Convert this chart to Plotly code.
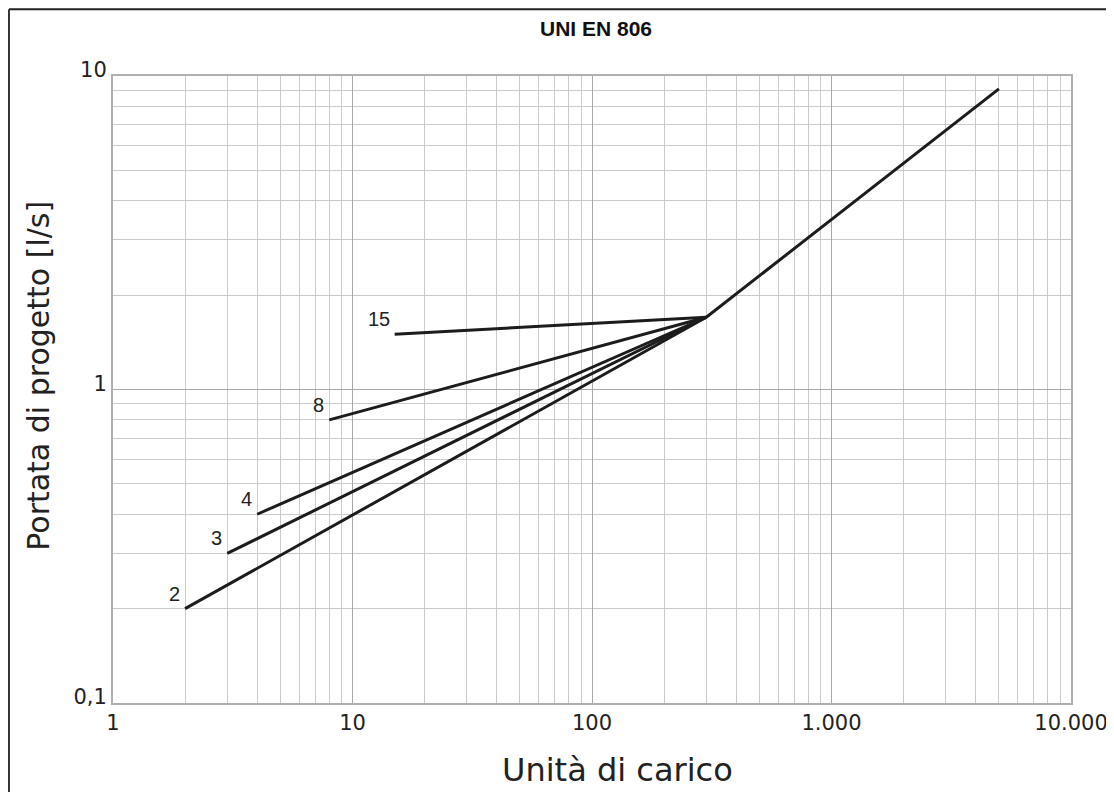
import math
import plotly.graph_objects as go

# Data
curve_labels = ["2", "3", "4", "8", "15"]
start_lu = [2, 3, 4, 8, 15]
start_q = [0.2, 0.3, 0.4, 0.8, 1.5]
knee_lu = 300
knee_q = 1.7
end_lu = 5000
end_q = 9.1

x_tickvals = [1, 10, 100, 1000, 10000]
x_ticktext = ["1", "10", "100", "1.000", "10.000"]
y_tickvals = [0.1, 1, 10]
y_ticktext = ["0,1", "1", "10"]

x_minor = [m * 10 ** d for d in range(0, 4) for m in range(2, 10)]
y_minor = [m * 10 ** d for d in (-1, 0) for m in range(2, 10)]

line_color = "#1c1c1c"
font_main = "'DejaVu Sans', sans-serif"
font_arial = "'Liberation Sans', Arial, sans-serif"

fig = go.Figure()
for lab, x0, y0 in zip(curve_labels, start_lu, start_q):
    fig.add_trace(go.Scatter(x=[x0, knee_lu], y=[y0, knee_q], mode="lines",
                             line=dict(color=line_color, width=3), showlegend=False,
                             hoverinfo="skip"))
    fig.add_annotation(x=math.log10(x0), y=math.log10(y0), xref="x", yref="y", text=lab,
                       showarrow=False, xanchor="right", yanchor="bottom", xshift=-3, yshift=2,
                       font=dict(size=20, color="#222", family=font_arial))
fig.add_trace(go.Scatter(x=[knee_lu, end_lu], y=[knee_q, end_q], mode="lines",
                         line=dict(color=line_color, width=3), showlegend=False,
                         hoverinfo="skip"))

ax_common = dict(showgrid=True, gridcolor="#a8a8a8", gridwidth=1.2,
                 showline=True, linecolor="#b0b0b0", linewidth=2, mirror=True,
                 ticks="", zeroline=False,
                 tickfont=dict(size=21, color="#222", family=font_main))

fig.update_xaxes(type="log", range=[0, 4], tickmode="array",
                 tickvals=x_tickvals, ticktext=x_ticktext,
                 minor=dict(tickmode="array", tickvals=x_minor, showgrid=True,
                            gridcolor="#cbcbcb", gridwidth=1, ticks=""),
                 **ax_common)
fig.update_yaxes(type="log", range=[-1, 1], tickmode="array",
                 tickvals=y_tickvals, ticktext=y_ticktext, ticklabelshift=-6,
                 minor=dict(tickmode="array", tickvals=y_minor, showgrid=True,
                            gridcolor="#cbcbcb", gridwidth=1, ticks=""),
                 **ax_common)

fig.add_annotation(text="Unità di carico", xref="paper", yref="paper", x=0.527, y=-0.107,
                   xanchor="center", yanchor="middle", showarrow=False,
                   font=dict(size=32, color="#222", family=font_main))
fig.add_annotation(text="Portata di progetto [l/s]", xref="paper", yref="paper",
                   x=-0.0772, y=0.522, textangle=-90,
                   xanchor="center", yanchor="middle", showarrow=False,
                   font=dict(size=30, color="#222", family=font_main))
fig.add_annotation(text="<b>UNI EN 806</b>", xref="paper", yref="paper",
                   x=0.5046, y=1.0765, xanchor="center", yanchor="middle", showarrow=False,
                   font=dict(size=21, color="#111", family=font_arial))

fig.update_layout(
    width=1114, height=792,
    margin=dict(l=105, r=51, t=68, b=97),
    paper_bgcolor="white", plot_bgcolor="white",
    shapes=[
        dict(type="line", xref="paper", yref="paper", x0=-0.1086, x1=1.06, y0=1.1065, y1=1.1065,
             line=dict(color="#222", width=2)),
        dict(type="line", xref="paper", yref="paper", x0=-0.1086, x1=-0.1086, y0=1.1065, y1=-0.17,
             line=dict(color="#333", width=2)),
    ],
)

fig.write_html("out.html")
